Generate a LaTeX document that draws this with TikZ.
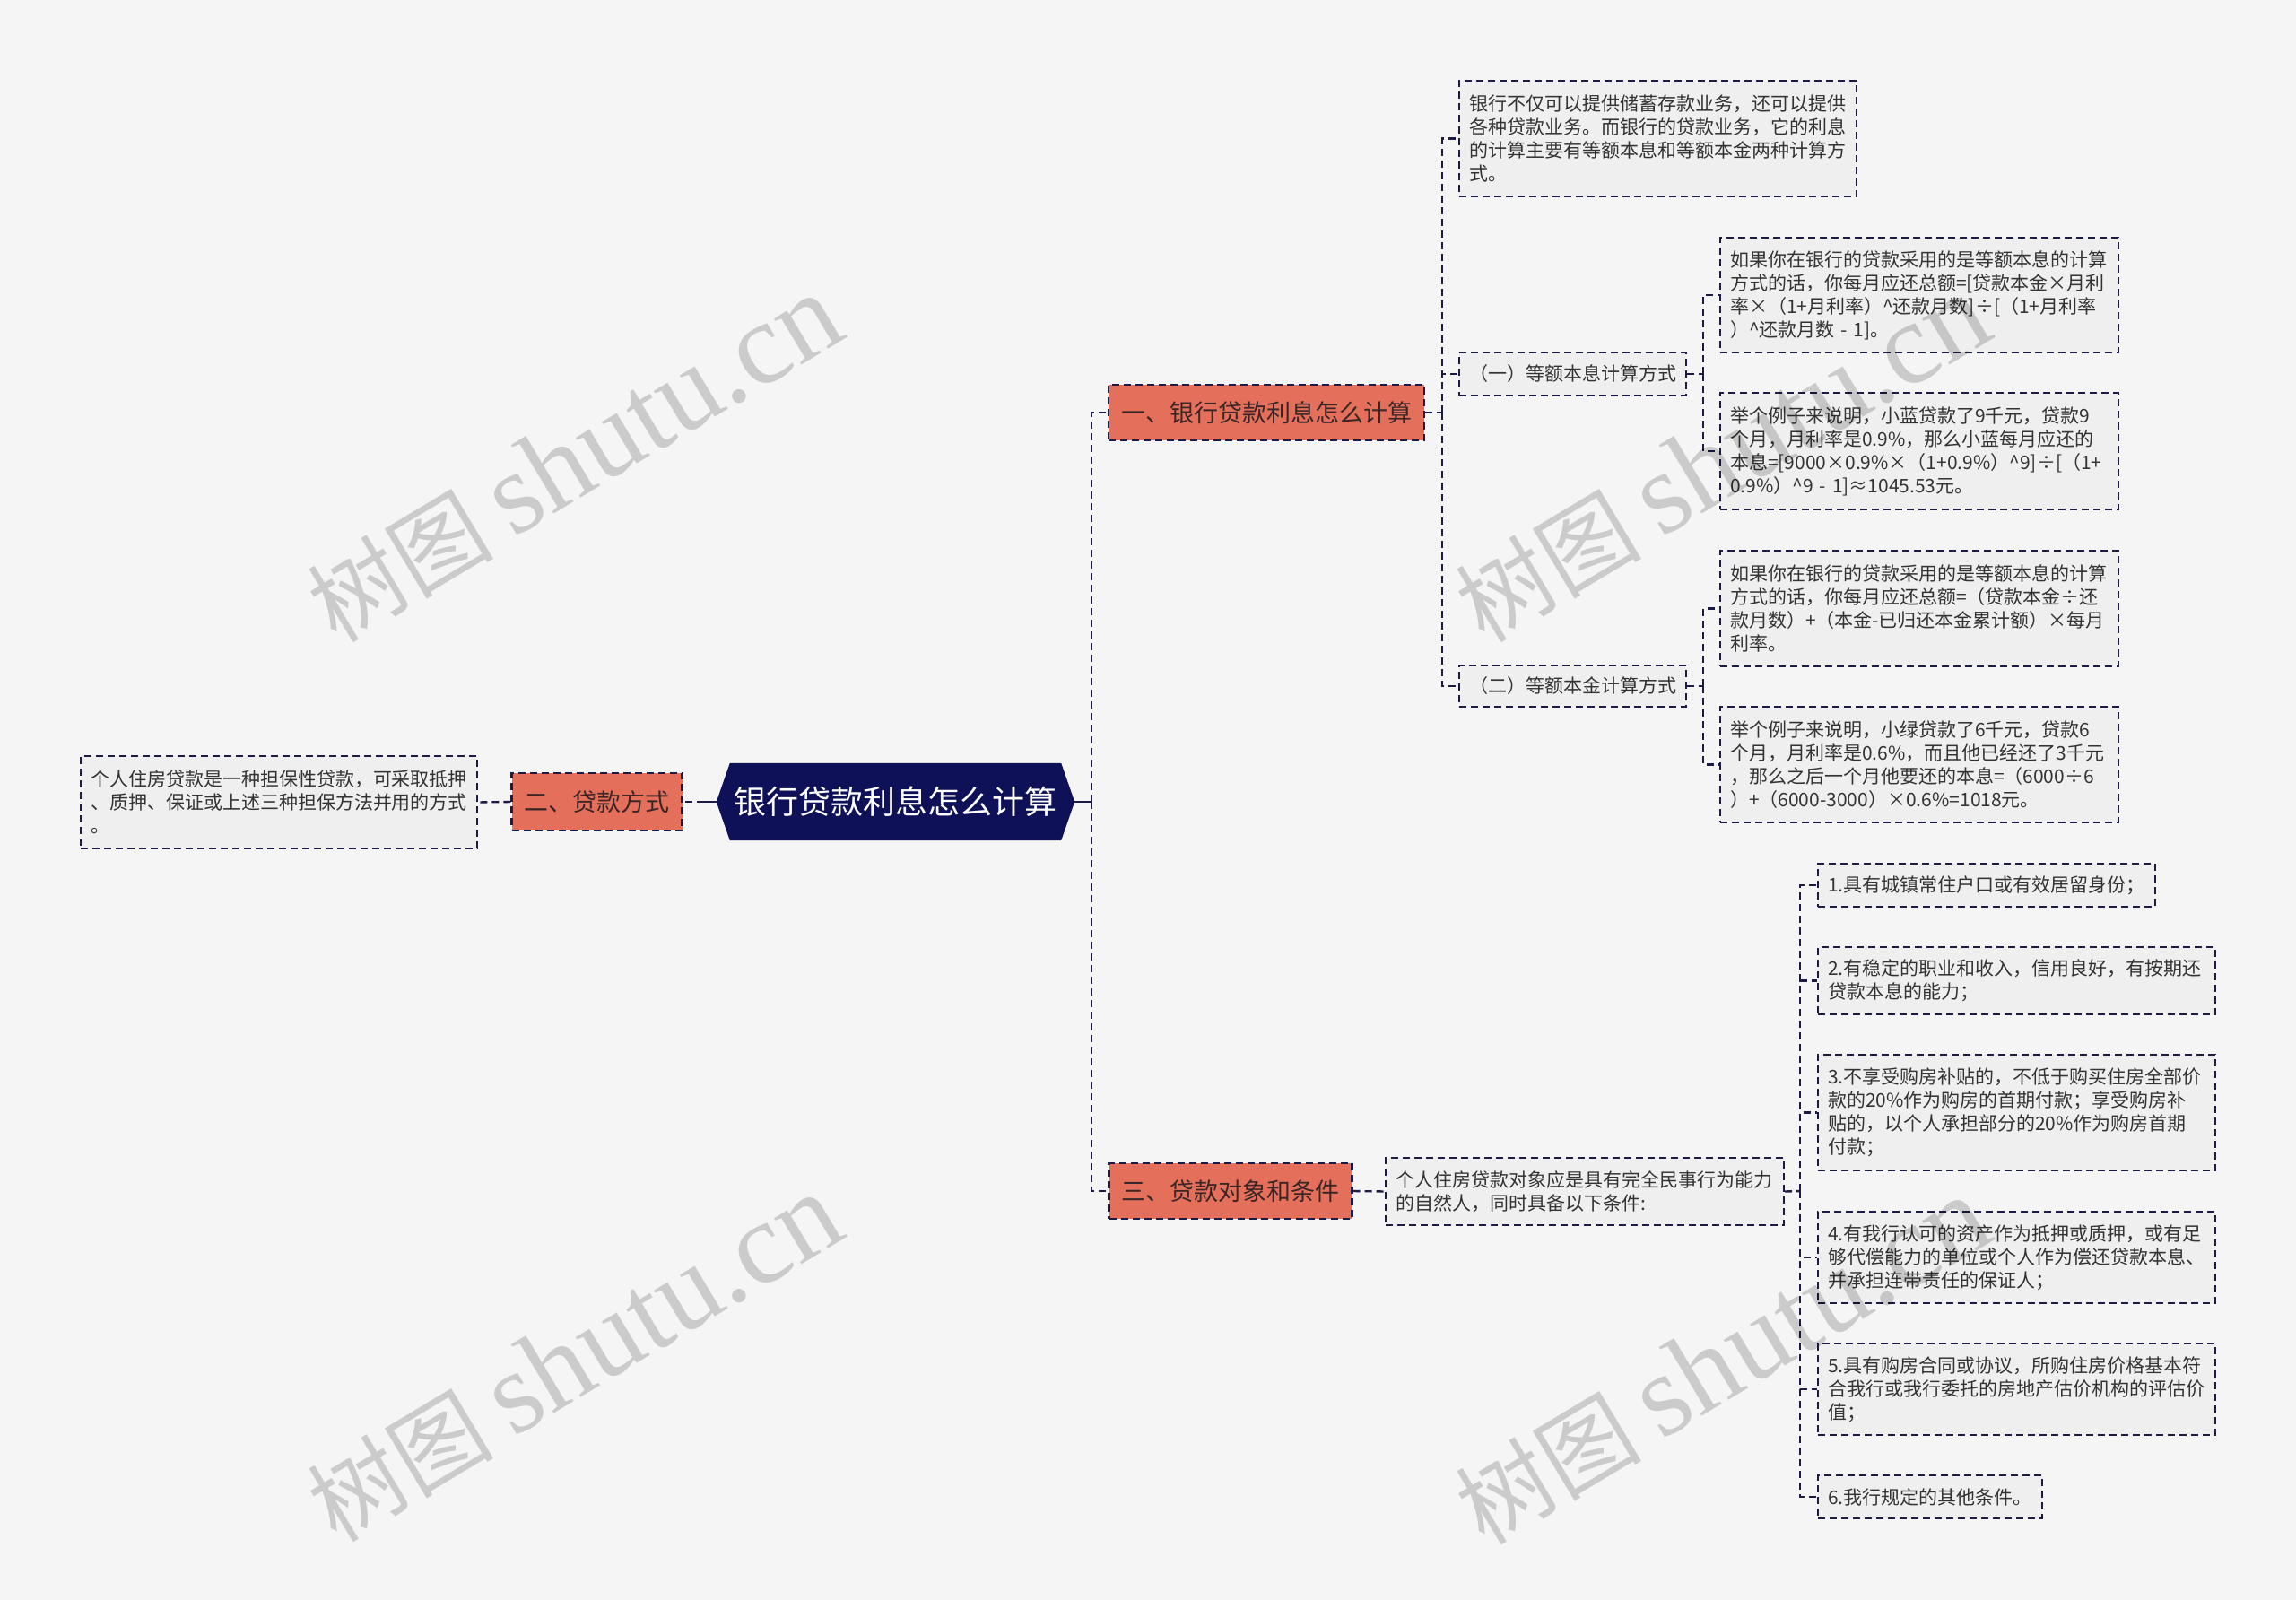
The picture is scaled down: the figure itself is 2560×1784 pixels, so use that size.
\documentclass[tikz,border=0pt]{standalone}
\usepackage{fontspec}
\setmainfont{Noto Sans CJK SC}
\newfontfamily\wmlatin{Liberation Serif}
\newfontfamily\wmcjk{Noto Sans CJK SC}
\usetikzlibrary{backgrounds,calc}
\definecolor{bgc}{HTML}{F5F5F5}
\definecolor{navy}{HTML}{0E1157}
\definecolor{salmon}{HTML}{E46F5A}
\definecolor{linec}{HTML}{1B1B45}
\definecolor{leaffill}{HTML}{EFEFEF}
\definecolor{txt}{HTML}{333333}
\definecolor{lvtxt}{HTML}{3A2626}
\begin{document}
\begin{tikzpicture}[x=1pt,y=-1pt,
  dsh/.style={dash pattern=on 8pt off 5pt, line width=2.4pt},
  conn/.style={draw=linec, dsh},
  solidconn/.style={draw=linec, line width=2.4pt},
  lvl/.style={draw=linec, dsh, fill=salmon, text=lvtxt, font=\fontsize{27}{32}\selectfont, inner xsep=14pt, inner ysep=0pt, minimum height=62pt, anchor=center},
  leaf/.style={draw=linec, dsh, fill=leaffill, text=txt, font=\fontsize{21}{26}\selectfont, inner xsep=11pt, inner ysep=0pt, align=left, anchor=center},
  wm/.style={text=black, text opacity=0.17, rotate=31, inner sep=0pt}
]
\useasboundingbox (0,0) rectangle (2560,1784);
\begin{pgfonlayer}{background}
\fill[bgc] (0,0) rectangle (2560,1784);
\end{pgfonlayer}

% root
\node[text=white, font=\fontsize{36}{40}\selectfont, minimum width=369pt, minimum height=86pt, inner sep=0pt] (root) at (998.5,894) {银行贷款利息怎么计算};
\begin{pgfonlayer}{background}
\fill[navy] ([xshift=-15pt]root.west) -- (root.north west) -- (root.north east) -- ([xshift=15pt]root.east) -- (root.south east) -- (root.south west) -- cycle;
\end{pgfonlayer}
\coordinate (rootR) at ([xshift=15pt]root.east);
\coordinate (rootL) at ([xshift=-15pt]root.west);

% level 1
\node[lvl] (n1) at (1412,460) {一、银行贷款利息怎么计算};
\node[lvl, minimum height=64pt] (n2) at (665.5,894) {二、贷款方式};
\node[lvl] (n3) at (1372,1328) {三、贷款对象和条件};

% left leaf
\node[leaf, text width=420pt, minimum height=103pt] (L) at (311,894.5) {个人住房贷款是一种担保性贷款，可采取抵押\\、质押、保证或上述三种担保方法并用的方式\\。};

% branch 1
\node[leaf, text width=421pt, minimum height=129pt] (A) at (1848.5,154.5) {银行不仅可以提供储蓄存款业务，还可以提供\\各种贷款业务。而银行的贷款业务，它的利息\\的计算主要有等额本息和等额本金两种计算方\\式。};
\node[leaf, text width=231pt, minimum height=48pt] (s1) at (1753.5,417) {（一）等额本息计算方式};
\node[leaf, text width=231pt, minimum height=46pt] (s2) at (1753.5,765) {（二）等额本金计算方式};

\node[leaf, text width=422pt, minimum height=128pt] (B1) at (2140,329) {如果你在银行的贷款采用的是等额本息的计算\\方式的话，你每月应还总额=[贷款本金×月利\\率×（1+月利率）\^{}还款月数]÷[（1+月利率\\）\^{}还款月数 - 1]。};
\node[leaf, text width=422pt, minimum height=130pt] (B2) at (2140,503) {举个例子来说明，小蓝贷款了9千元，贷款9\\个月，月利率是0.9\%，那么小蓝每月应还的\\本息=[9000×0.9\%×（1+0.9\%）\^{}9]÷[（1+\\0.9\%）\^{}9 - 1]≈1045.53元。};
\node[leaf, text width=422pt, minimum height=129pt] (C1) at (2140,678.5) {如果你在银行的贷款采用的是等额本息的计算\\方式的话，你每月应还总额=（贷款本金÷还\\款月数）+（本金-已归还本金累计额）×每月\\利率。};
\node[leaf, text width=422pt, minimum height=129pt] (C2) at (2140,852.5) {举个例子来说明，小绿贷款了6千元，贷款6\\个月，月利率是0.6\%，而且他已经还了3千元\\，那么之后一个月他要还的本息=（6000÷6\\）+（6000-3000）×0.6\%=1018元。};

% branch 3
\node[leaf, text width=422pt, minimum height=75pt] (D) at (1767,1328.5) {个人住房贷款对象应是具有完全民事行为能力\\的自然人，同时具备以下条件:};
\node[leaf, text width=354pt, minimum height=48pt] (I1) at (2215,987) {1.具有城镇常住户口或有效居留身份；};
\node[leaf, text width=421pt, minimum height=75pt] (I2) at (2248.5,1093.5) {2.有稳定的职业和收入，信用良好，有按期还\\贷款本息的能力；};
\node[leaf, text width=421pt, minimum height=129pt] (I3) at (2248.5,1240.5) {3.不享受购房补贴的，不低于购买住房全部价\\款的20\%作为购房的首期付款；享受购房补\\贴的，以个人承担部分的20\%作为购房首期\\付款；};
\node[leaf, text width=421pt, minimum height=102pt] (I4) at (2248.5,1402) {4.有我行认可的资产作为抵押或质押，或有足\\够代偿能力的单位或个人作为偿还贷款本息、\\并承担连带责任的保证人；};
\node[leaf, text width=421pt, minimum height=102pt] (I5) at (2248.5,1549) {5.具有购房合同或协议，所购住房价格基本符\\合我行或我行委托的房地产估价机构的评估价\\值；};
\node[leaf, text width=228pt, minimum height=48pt] (I6) at (2152,1669) {6.我行规定的其他条件。};

% connectors
\coordinate (tr) at (1217,894);
\draw[solidconn] (rootR) -- (tr);
\draw[conn] (tr) |- (n1.west);
\draw[conn] (tr) |- (n3.west);
\coordinate (lstub) at (785,894);
\draw[solidconn] (rootL) -- (lstub);
\draw[conn] (lstub) -- (n2.east);
\draw[conn] (n2.west) -- (L.east);

\coordinate (b1) at (1608,460);
\draw[conn] (n1.east) -- (b1);
\draw[conn] (b1) |- (A.west);
\draw[conn] (b1) |- (s1.west);
\draw[conn] (b1) |- (s2.west);

\coordinate (b1a) at (1899,417);
\draw[conn] (s1.east) -- (b1a);
\draw[conn] (b1a) |- (B1.west);
\draw[conn] (b1a) |- (B2.west);
\coordinate (b1b) at (1899,765);
\draw[conn] (s2.east) -- (b1b);
\draw[conn] (b1b) |- (C1.west);
\draw[conn] (b1b) |- (C2.west);

\draw[conn] (n3.east) -- (D.west);
\coordinate (b3) at (2007,1328);
\draw[conn] (D.east) -- (b3);
\foreach \i in {I1,I2,I3,I4,I5,I6} {\draw[conn] (b3) |- (\i.west);}

% watermarks
\newcommand{\wmtext}{{\wmcjk\fontsize{104}{110}\selectfont 树图}\hspace{22pt}{\wmlatin\fontsize{130}{136}\selectfont shutu.cn}}
\node[wm] (w1) at (640,512) {\wmtext};
\node[wm] (w2) at (640,1515) {\wmtext};
\node[wm] (w3) at (1920,512) {\wmtext};
\node[wm] (w4) at (1920,1518) {\wmtext};
\end{tikzpicture}
\end{document}
